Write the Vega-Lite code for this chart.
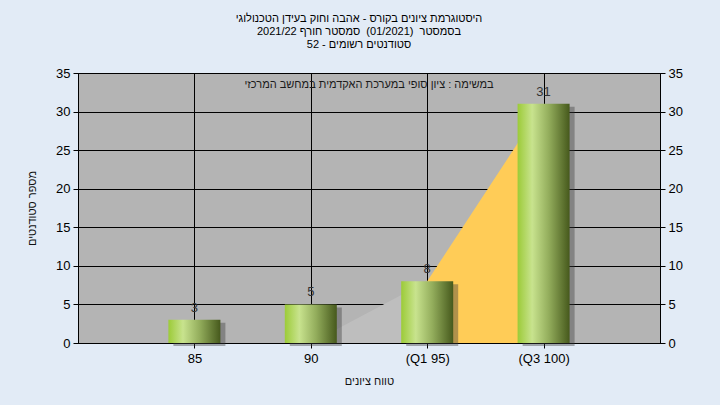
{
  "$schema": "https://vega.github.io/schema/vega-lite/v6.json",
  "width": 582,
  "height": 270,
  "autosize": "none",
  "padding": {"left": 78, "top": 73, "right": 60, "bottom": 62},
  "background": "#e2ebf6",
  "title": {
    "text": [
      "היסטוגרמת ציונים בקורס - אהבה וחוק בעידן הטכנולוגי",
      "\u202bבסמסטר \u00a0(01/2021) \u00a0סמסטר חורף 2021/22\u202c",
      "\u202bסטודנטים רשומים - 52\u202c"
    ],
    "font": "Liberation Sans",
    "fontSize": 11,
    "fontWeight": "normal",
    "lineHeight": 13,
    "color": "#000000",
    "anchor": "middle",
    "dx": -10,
    "offset": 17
  },
  "config": {
    "view": {"fill": "#b4b4b4", "stroke": "#000000", "strokeWidth": 1},
    "axis": {
      "labelFont": "Liberation Sans",
      "titleFont": "Liberation Sans",
      "labelColor": "#000000",
      "titleColor": "#111111",
      "labelFontSize": 13,
      "titleFontSize": 11,
      "titleFontWeight": "normal",
      "domainColor": "#000000",
      "tickColor": "#000000",
      "gridColor": "#000000",
      "gridOpacity": 1,
      "tickSize": 5
    }
  },
  "datasets": {
    "bars": [
      {"label": "85", "v": 3},
      {"label": "90", "v": 5},
      {"label": "(Q1 95)", "v": 8},
      {"label": "(Q3 100)", "v": 31}
    ],
    "areas": [
      {"label": "90", "v": 0, "part": "low"},
      {"label": "(Q1 95)", "v": 8, "part": "low"},
      {"label": "(Q1 95)", "v": 8, "part": "iqr"},
      {"label": "(Q3 100)", "v": 31, "part": "iqr"}
    ],
    "note": [
      {"text": "במשימה : ציון סופי במערכת האקדמית במחשב המרכזי"}
    ]
  },
  "resolve": {"axis": {"y": "independent"}},
  "layer": [
    {
      "data": {"name": "areas"},
      "mark": {"type": "area", "opacity": 1},
      "encoding": {
        "x": {
          "field": "label", "type": "nominal", "sort": ["85", "90", "(Q1 95)", "(Q3 100)"],
          "scale": {"type": "point", "padding": 1, "domain": ["85", "90", "(Q1 95)", "(Q3 100)"]},
          "axis": {"labelAngle": 0, "grid": true, "title": "טווח ציונים", "labelPadding": 4, "titlePadding": 10}
        },
        "y": {
          "field": "v", "type": "quantitative", "stack": null,
          "scale": {"domain": [0, 35], "nice": false},
          "axis": {"orient": "left", "values": [0, 5, 10, 15, 20, 25, 30, 35], "grid": true, "title": "מספר סטודנטים", "labelPadding": 3, "titlePadding": 18}
        },
        "color": {
          "field": "part", "type": "nominal",
          "scale": {"domain": ["low", "iqr"], "range": ["#bebebe", "#ffcc57"]},
          "legend": null
        },
        "order": {"field": "part"}
      }
    },
    {
      "data": {"name": "bars"},
      "mark": {"type": "bar", "size": 52, "color": "#3a3a3a", "opacity": 0.4, "xOffset": 5, "yOffset": 3, "y2Offset": 4},
      "encoding": {
        "x": {"field": "label", "type": "nominal", "sort": ["85", "90", "(Q1 95)", "(Q3 100)"]},
        "y": {"field": "v", "type": "quantitative", "axis": null}
      }
    },
    {
      "data": {"name": "bars"},
      "mark": {
        "type": "bar",
        "size": 52,
        "fill": {
          "gradient": "linear", "x1": 0, "x2": 1, "y1": 0, "y2": 0,
          "stops": [
            {"offset": 0, "color": "#9ccb38"},
            {"offset": 0.28, "color": "#c8e38e"},
            {"offset": 0.6, "color": "#93ad5c"},
            {"offset": 1, "color": "#46591c"}
          ]
        }
      },
      "encoding": {
        "x": {"field": "label", "type": "nominal", "sort": ["85", "90", "(Q1 95)", "(Q3 100)"]},
        "y": {"field": "v", "type": "quantitative", "axis": null}
      }
    },
    {
      "data": {"name": "bars"},
      "mark": {"type": "text", "baseline": "bottom", "dy": -5, "font": "Liberation Sans", "fontSize": 13, "color": "#333333"},
      "encoding": {
        "x": {"field": "label", "type": "nominal", "sort": ["85", "90", "(Q1 95)", "(Q3 100)"]},
        "y": {
          "field": "v", "type": "quantitative",
          "axis": {"orient": "right", "values": [0, 5, 10, 15, 20, 25, 30, 35], "grid": false, "title": null, "labelPadding": 3}
        },
        "text": {"field": "v", "type": "quantitative"}
      }
    },
    {
      "data": {"name": "note"},
      "mark": {"type": "text", "font": "Liberation Sans", "fontSize": 11, "color": "#1a1a1a", "baseline": "middle"},
      "encoding": {
        "y": {"datum": 33.5, "type": "quantitative", "axis": null},
        "text": {"field": "text", "type": "nominal"}
      }
    }
  ]
}
